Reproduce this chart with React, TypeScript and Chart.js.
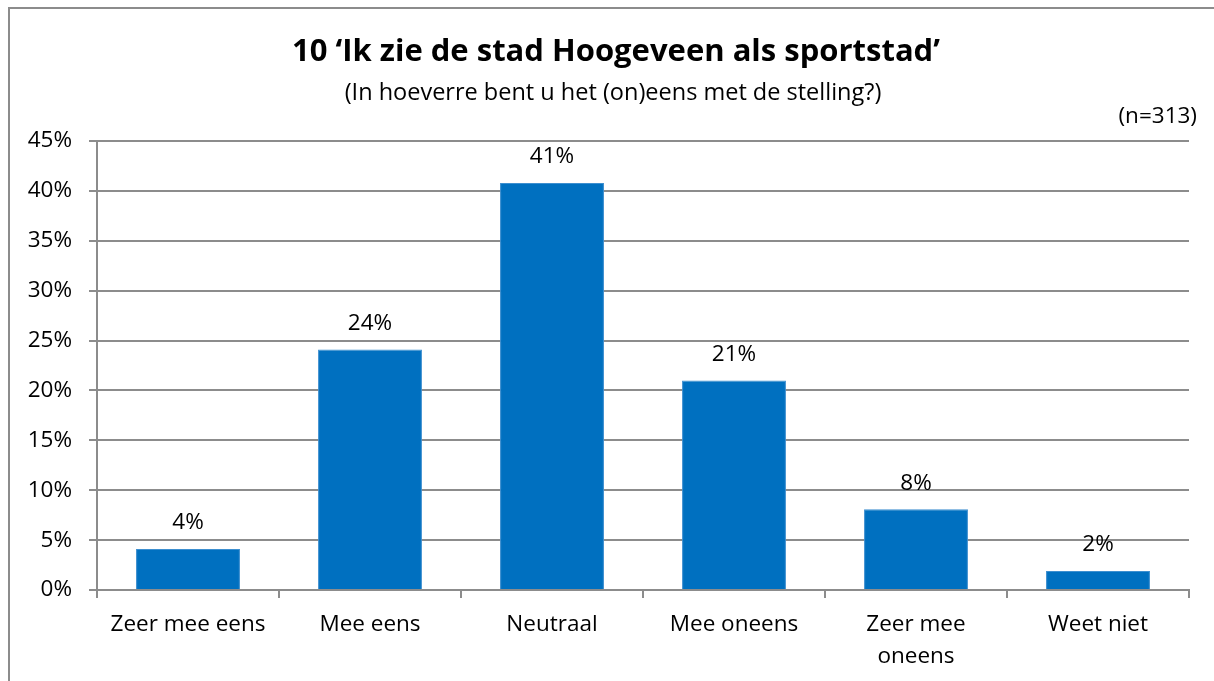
import React, { useEffect, useRef } from "react";
import { Chart, registerables } from "chart.js";

Chart.register(...registerables);

const categories: (string | string[])[] = [
  "Zeer mee eens",
  "Mee eens",
  "Neutraal",
  "Mee oneens",
  ["Zeer mee", "oneens"],
  "Weet niet",
];
const values: number[] = [4.1, 24.1, 40.8, 21.0, 8.1, 1.9];
const titleText = "10 \u2018Ik zie de stad Hoogeveen als sportstad\u2019";
const subtitleText = "(In hoeverre bent u het (on)eens met de stelling?)";
const sampleText = "(n=313)";

const FONT = "'Open Sans', 'DejaVu Sans', sans-serif";

export default function App() {
  const ref = useRef<HTMLCanvasElement | null>(null);

  useEffect(() => {
    if (!ref.current) return;
    const textPlugin = {
      id: "texts",
      afterDatasetsDraw(chart: any) {
        const ctx = chart.ctx;
        ctx.save();
        ctx.fillStyle = "#000";
        ctx.textAlign = "center";
        ctx.textBaseline = "middle";
        const meta = chart.getDatasetMeta(0);
        ctx.font = `22.5px ${FONT}`;
        meta.data.forEach((el: any, i: number) => {
          ctx.fillText(`${Math.round(values[i])}%`, el.x, el.y - 26);
        });
        ctx.font = `bold 31px ${FONT}`;
        ctx.fillText(titleText, 616, 52);
        ctx.font = `23.5px ${FONT}`;
        ctx.fillText(subtitleText, 613, 93);
        ctx.font = `22.5px ${FONT}`;
        ctx.textAlign = "right";
        ctx.fillText(sampleText, 1197, 117);
        ctx.restore();
      },
    };

    const chart = new Chart(ref.current, {
      type: "bar",
      data: {
        labels: categories,
        datasets: [
          {
            data: values,
            backgroundColor: "#0070C0",
            borderColor: "#3d8fd0",
            borderWidth: 1,
            categoryPercentage: 1,
            barPercentage: 0.571,
          },
        ],
      },
      options: {
        responsive: false,
        animation: false,
        layout: { padding: { left: 0, right: 25, top: 141, bottom: 0 } },
        plugins: {
          legend: { display: false },
          title: { display: false },
          tooltip: { enabled: false },
        },
        scales: {
          x: {
            offset: true,
            grid: {
              offset: true,
              drawOnChartArea: false,
              drawTicks: true,
              tickLength: 8,
              color: "#8c8c8c",
              lineWidth: 2,
            },
            border: { color: "#8c8c8c", width: 2 },
            ticks: {
              color: "#000",
              padding: 11,
              maxRotation: 0,
              autoSkip: false,
              font: { family: FONT, size: 22.5, lineHeight: 1.42 },
            },
            afterFit(scale: any) {
              scale.height = 91;
            },
          },
          y: {
            min: 0,
            max: 45,
            ticks: {
              stepSize: 5,
              color: "#000",
              padding: 17,
              font: { family: FONT, size: 22.5 },
              callback: (v: any) => `${v}%`,
            },
            grid: {
              color: "#8c8c8c",
              lineWidth: 2,
              tickLength: 8,
            },
            border: { color: "#8c8c8c", width: 2 },
            afterFit(scale: any) {
              scale.width = 97;
            },
          },
        },
      },
      plugins: [textPlugin],
    });
    return () => chart.destroy();
  }, []);

  return (
    <div
      style={{
        position: "fixed",
        left: 0,
        top: 0,
        width: 1214,
        height: 681,
        overflow: "hidden",
        background: "#fff",
      }}
    >
      <div
        style={{
          position: "absolute",
          left: 8,
          top: 7,
          width: 1230,
          height: 720,
          border: "2px solid #8c8c8c",
          boxSizing: "border-box",
        }}
      />
      <canvas
        ref={ref}
        width={1214}
        height={681}
        style={{ position: "absolute", left: 0, top: 0 }}
      />
    </div>
  );
}
